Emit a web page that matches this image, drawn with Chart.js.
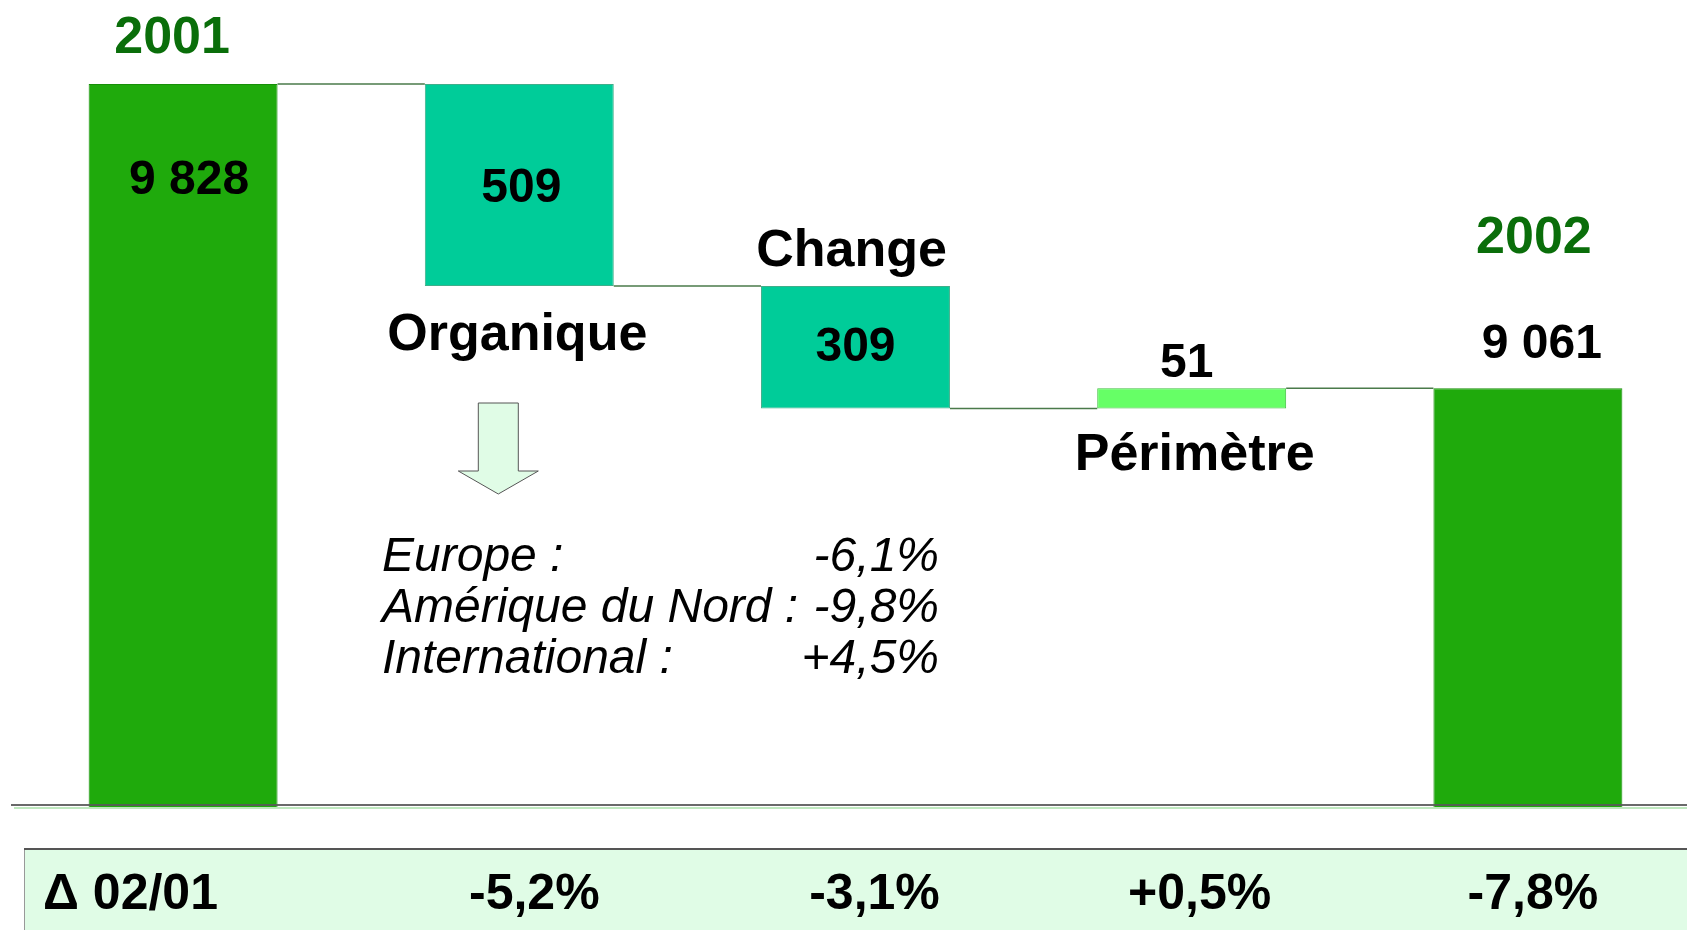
<!DOCTYPE html>
<html lang="fr">
<head>
<meta charset="utf-8">
<title>Chiffre d'affaires 2001 - 2002</title>
<script src="https://cdn.jsdelivr.net/npm/chart.js@4/dist/chart.umd.min.js"></script>
<style>
  html, body { margin: 0; padding: 0; background: #fff; overflow: hidden; }
  #wrap { width: 1687px; height: 930px; overflow: hidden; }
</style>
</head>
<body>
<div id="wrap"><canvas id="bridge" width="1700" height="930"></canvas></div>
<script>
// data
const categories = ["2001", "Organique", "Change", "Périmètre", "2002"];
const amounts = [9828, -509, -309, 51, 9061];
const isTotal = [true, false, false, false, true];
const valueLabels = ["9 828", "509", "309", "51", "9 061"];
const deltaTitle = "Δ 02/01";
const deltaLabels = ["-5,2%", "-3,1%", "+0,5%", "-7,8%"];
const regions = ["Europe :", "Amérique du Nord :", "International :"];
const regionGrowth = ["-6,1%", "-9,8%", "+4,5%"];

// floating bars for the bridge
const AXIS_MIN = 8000;
let running = 0;
const bridgeData = amounts.map((v, i) => {
  if (isTotal[i]) {
    running = v;
    return [AXIS_MIN, v];
  }
  const from = running;
  running = from + v;
  return [Math.min(from, running), Math.max(from, running)];
});

const barColors = ["#1faa0c", "#00cc99", "#00cc99", "#66ff66", "#1faa0c"];
const barBorders = ["#178f08", "#3fae8a", "#3fae8a", "#3fbf3f", "#178f08"];

const FONT = "'Liberation Sans', Arial, sans-serif";
const DARK_GREEN = "#0a6e0a";
const VIEW_W = 1687;
const TY = 4; // canvas "middle" sits a bit high for these glyphs

// where the texts sit, relative to each bar
const nameStyle = [
  { at: "top", dx: -11, dy: -49, color: DARK_GREEN },
  { at: "bottom", dx: -2, dy: 46 },
  { at: "top", dx: -4, dy: -38 },
  { at: "bottom", dx: 3, dy: 43 },
  { at: "top", dx: 6, dy: -154, color: DARK_GREEN }
];
const valueStyle = [
  { at: "top", dx: 6, dy: 93 },
  { at: "mid", dx: 2, dy: 0 },
  { at: "mid", dx: 0, dy: -3 },
  { at: "top", dx: -5, dy: -28 },
  { at: "top", dx: 14, dy: -47 }
];
const deltaDx = [15, 19, 8, 5];

const bridgePlugin = {
  id: "bridge",
  afterDatasetsDraw(chart) {
    const { ctx } = chart;
    const ys = chart.scales.y;
    const meta = chart.getDatasetMeta(0);

    ctx.save();

    // connectors between bars
    ctx.strokeStyle = "#4a7a4a";
    ctx.lineWidth = 1.5;
    for (let i = 0; i < meta.data.length - 1; i++) {
      const a = meta.data[i], b = meta.data[i + 1];
      const endValue = isTotal[i] ? amounts[i]
        : (amounts[i] < 0 ? bridgeData[i][0] : bridgeData[i][1]);
      const level = ys.getPixelForValue(endValue);
      ctx.beginPath();
      ctx.moveTo(a.x + a.width / 2, level);
      ctx.lineTo(b.x - b.width / 2, level);
      ctx.stroke();
    }

    // baseline
    const base = ys.getPixelForValue(AXIS_MIN);
    ctx.strokeStyle = "rgba(90,90,90,0.9)";
    ctx.lineWidth = 2;
    ctx.beginPath();
    ctx.moveTo(11, base - 4);
    ctx.lineTo(chart.width, base - 4);
    ctx.stroke();
    ctx.strokeStyle = "#bfe8bf";
    ctx.beginPath();
    ctx.moveTo(14, base - 1);
    ctx.lineTo(chart.width, base - 1);
    ctx.stroke();

    // bar names and values
    ctx.textAlign = "center";
    ctx.textBaseline = "middle";
    meta.data.forEach((bar, i) => {
      const top = ys.getPixelForValue(bridgeData[i][1]);
      const bottom = ys.getPixelForValue(bridgeData[i][0]);
      const pick = (s) => s.at === "top" ? top : s.at === "bottom" ? bottom : (top + bottom) / 2;

      const ns = nameStyle[i];
      ctx.fillStyle = ns.color || "#000";
      ctx.font = "bold 52px " + FONT;
      ctx.fillText(categories[i], bar.x + ns.dx, pick(ns) + ns.dy + TY);

      const vs = valueStyle[i];
      ctx.fillStyle = "#000";
      ctx.font = "bold 48px " + FONT;
      ctx.fillText(valueLabels[i], bar.x + vs.dx, pick(vs) + vs.dy + TY);
    });

    // arrow under "Organique"
    const org = meta.data[1];
    const ax = org.x - 21;
    ctx.fillStyle = "#e0fce6";
    ctx.strokeStyle = "#555";
    ctx.lineWidth = 1;
    ctx.beginPath();
    ctx.moveTo(ax - 20, 403);
    ctx.lineTo(ax + 20, 403);
    ctx.lineTo(ax + 20, 471);
    ctx.lineTo(ax + 40, 471);
    ctx.lineTo(ax, 494);
    ctx.lineTo(ax - 40, 471);
    ctx.lineTo(ax - 20, 471);
    ctx.closePath();
    ctx.fill();
    ctx.stroke();

    // regional breakdown of organic growth
    ctx.font = "italic 48px " + FONT;
    ctx.fillStyle = "#000";
    regions.forEach((r, i) => {
      const y = 554 + i * 51 + TY;
      ctx.textAlign = "left";
      ctx.fillText(r, 382, y);
      ctx.textAlign = "right";
      ctx.fillText(regionGrowth[i], 939, y);
    });

    // bottom row with yearly changes
    ctx.fillStyle = "#e0fce6";
    ctx.fillRect(24, 849, VIEW_W - 24, chart.height - 849);
    ctx.strokeStyle = "#999";
    ctx.lineWidth = 1;
    ctx.beginPath();
    ctx.moveTo(24.5, 849);
    ctx.lineTo(24.5, chart.height);
    ctx.stroke();
    ctx.strokeStyle = "#555";
    ctx.lineWidth = 2;
    ctx.beginPath();
    ctx.moveTo(24, 849);
    ctx.lineTo(VIEW_W, 849);
    ctx.stroke();

    ctx.fillStyle = "#000";
    ctx.font = "bold 50px " + FONT;
    ctx.textAlign = "left";
    ctx.fillText(deltaTitle, 43, 891 + TY);
    ctx.textAlign = "center";
    deltaLabels.forEach((d, i) => {
      const bar = meta.data[i + 1];
      ctx.fillText(d, bar.x + deltaDx[i], 891 + TY);
    });

    ctx.restore();
  }
};

new Chart(document.getElementById("bridge"), {
  type: "bar",
  data: {
    labels: categories,
    datasets: [{
      data: bridgeData,
      backgroundColor: barColors,
      borderColor: barBorders,
      borderWidth: 1,
      borderSkipped: false,
      barPercentage: 0.562,
      categoryPercentage: 1
    }]
  },
  options: {
    responsive: false,
    animation: false,
    layout: { padding: { top: 0, bottom: 121, left: 15, right: 4 } },
    scales: {
      x: { display: false },
      y: { min: AXIS_MIN, max: 10040, display: false }
    },
    plugins: {
      legend: { display: false },
      tooltip: { enabled: false }
    }
  },
  plugins: [bridgePlugin]
});
</script>
</body>
</html>
